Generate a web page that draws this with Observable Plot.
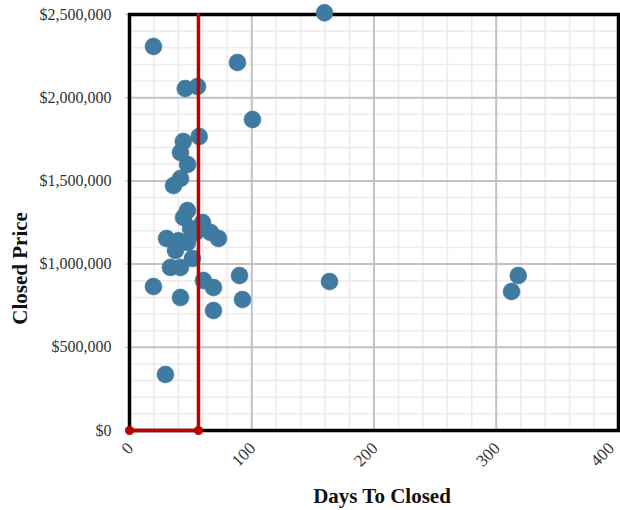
<!DOCTYPE html>
<html>
<head>
<meta charset="utf-8">
<script src="https://cdn.jsdelivr.net/npm/d3@7"></script>
<script src="https://cdn.jsdelivr.net/npm/@observablehq/plot@0.6"></script>
<style>
  html, body { margin: 0; padding: 0; background: #fff; }
</style>
</head>
<body>
<div id="chart"></div>
<script>
// Days to close for each sale
const days = [159.5, 19.6, 88.3, 45.6, 55.6, 100.6, 57, 44, 41.7, 47.5, 41.7, 36,
  47.4, 44.2, 59.7, 50, 54, 66.3, 72.8, 30.3, 47.4, 40, 37.6, 51.5, 33.5, 41.7,
  19.6, 41.7, 60.5, 68.7, 90, 92.4, 68.7, 29.4, 163.6, 318, 312.5];
// Closed price for each sale
const prices = [2510000, 2308000, 2212000, 2055000, 2067000, 1869000, 1767000, 1737000, 1671000, 1599000, 1514000, 1472000,
  1322000, 1280000, 1250000, 1214000, 1190000, 1190000, 1154000, 1154000, 1130000, 1140000, 1082000, 1034000, 980000, 980000,
  865000, 799000, 901000, 859000, 931000, 787000, 721000, 337000, 895000, 931000, 835000];

const xTicks = [0, 100, 200, 300];
const xLastTick = [400];
const yTicks = [0, 500000, 1000000, 1500000, 2000000, 2500000];
const xMinor = d3.range(0, 401, 20);
const yMinor = d3.range(0, 2500001, 100000);

// Median days-to-close marker
const medianDays = 56.4;
const medianPath = [[0, 0], [medianDays, 0], [medianDays, 2500000]];
const medianDots = [[0, 0], [medianDays, 0]];

const data = days.map((d, i) => ({days: d, price: prices[i]}));
const fmt = d3.format("$,.0f");

const chart = Plot.plot({
  width: 620,
  height: 510,
  marginLeft: 129,
  marginRight: 2,
  marginTop: 14,
  marginBottom: 80,
  style: {fontFamily: "'Liberation Serif', 'DejaVu Serif', serif", fontSize: "16px", color: "#333", background: "#fff"},
  x: {domain: [0, 400]},
  y: {domain: [0, 2500000]},
  marks: [
    Plot.ruleX(xMinor, {stroke: "#ececec", strokeWidth: 1.5}),
    Plot.ruleY(yMinor, {stroke: "#ececec", strokeWidth: 1.5}),
    Plot.ruleX([...xTicks, ...xLastTick], {stroke: "#c2c2c2", strokeWidth: 2}),
    Plot.ruleY(yTicks, {stroke: "#c2c2c2", strokeWidth: 2}),
    Plot.axisY(yTicks, {tickFormat: fmt, tickSize: 4, tickPadding: 14, label: null, fill: "#333", stroke: "#bbb", fontSize: 16}),
    Plot.axisX(xTicks, {tickRotate: -45, tickSize: 0, tickPadding: 15, dx: 1, label: null, fill: "#333", fontSize: 17}),
    Plot.axisX(xLastTick, {tickRotate: -45, tickSize: 0, tickPadding: 15, dx: -7, label: null, fill: "#333", fontSize: 17}),
    Plot.frame({stroke: "#000", strokeWidth: 3.5}),
    Plot.dot(data, {x: "days", y: "price", r: 8.5, fill: "#3f7aa1", stroke: "#3a7299", strokeWidth: 0.5}),
    Plot.line(medianPath, {x: d => d[0], y: d => d[1], stroke: "#c00000", strokeWidth: 3.5}),
    Plot.dot(medianDots, {x: d => d[0], y: d => d[1], r: 4.5, fill: "#c00000"}),
    Plot.text(["Days To Closed"], {frameAnchor: "bottom", dy: 66, dx: 8, fontWeight: "bold", fontSize: 21, fill: "#111", lineAnchor: "middle"}),
    Plot.text(["Closed Price"], {y: () => 974000, frameAnchor: "left", textAnchor: "middle", dx: -109, rotate: -90, fontWeight: "bold", fontSize: 21, fill: "#111"})
  ]
});
document.getElementById("chart").append(chart);
</script>
</body>
</html>
